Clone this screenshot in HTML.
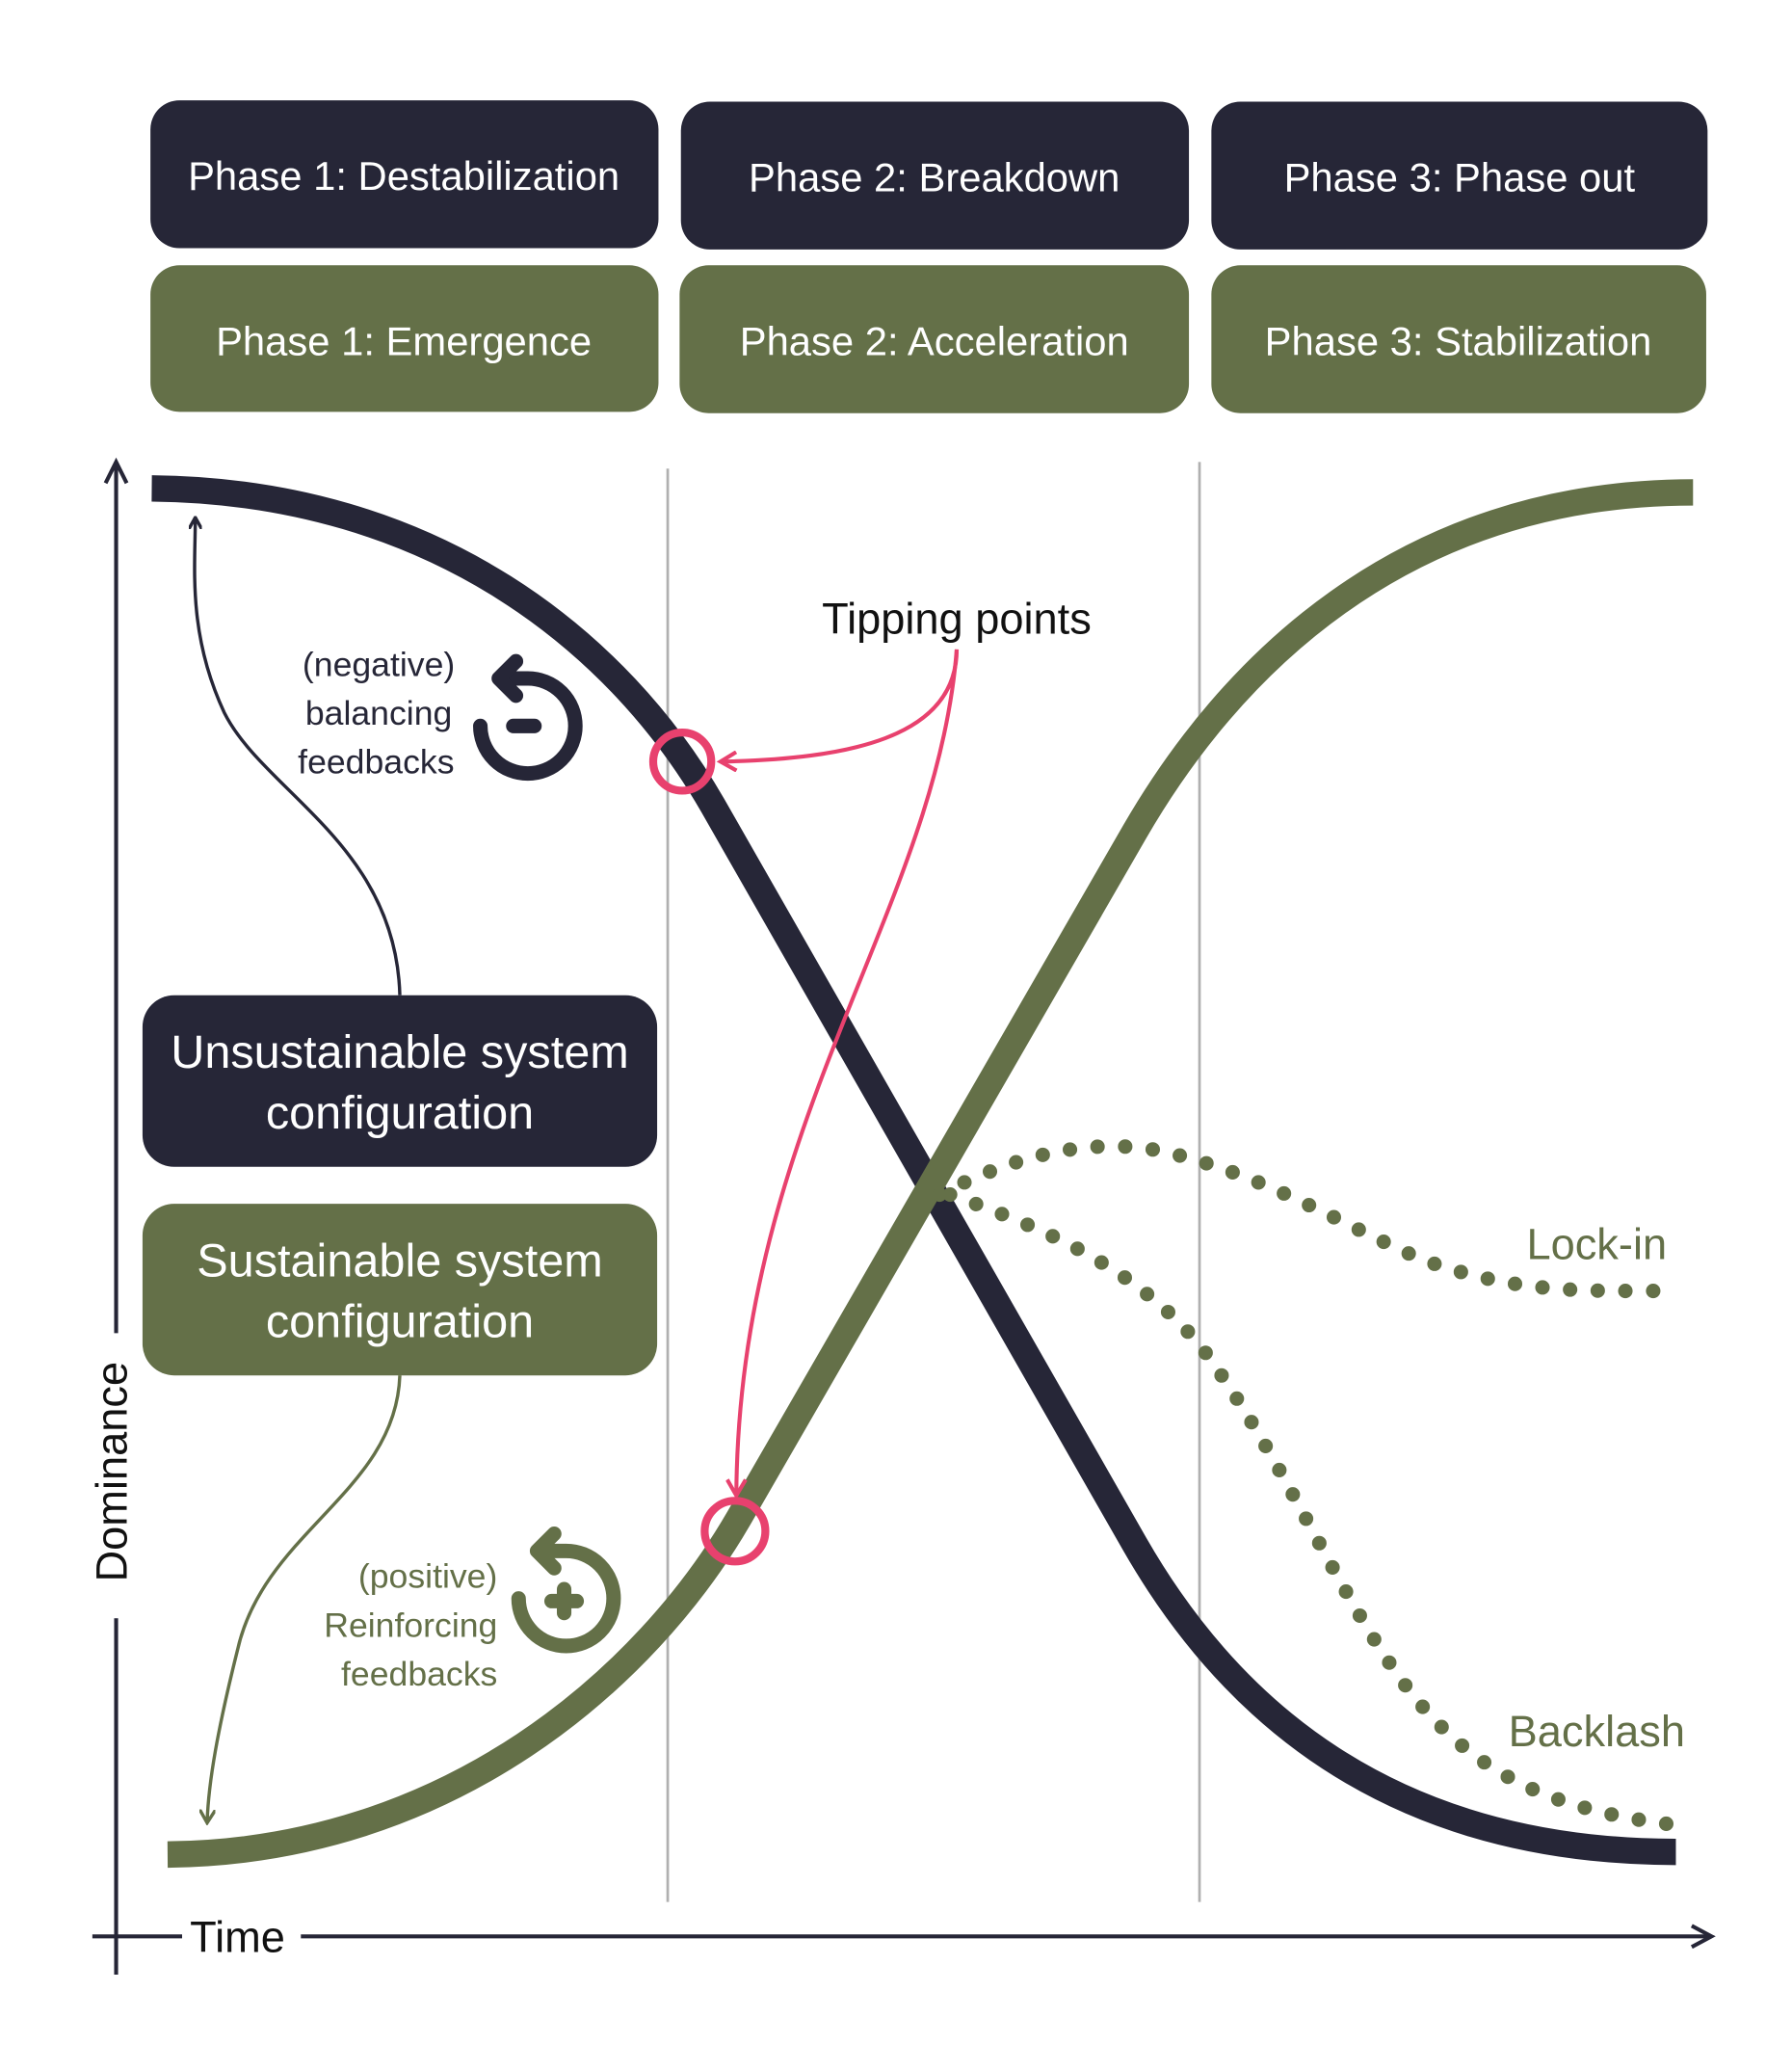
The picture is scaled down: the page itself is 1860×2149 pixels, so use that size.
<!DOCTYPE html>
<html><head><meta charset="utf-8"><style>
html,body{margin:0;padding:0;background:#fff}
svg{display:block}
text{font-family:"Liberation Sans",sans-serif}
</style></head><body>
<svg width="1860" height="2149" viewBox="0 0 1358 1569" xmlns="http://www.w3.org/2000/svg">
<defs>
<marker id="ad" markerWidth="10" markerHeight="10" refX="8" refY="5" orient="auto" markerUnits="userSpaceOnUse"><path d="M0,0 L9,5 L0,10" fill="none" stroke="#262637" stroke-width="2.5"/></marker>
<marker id="ag" markerWidth="12" markerHeight="12" refX="9" refY="6" orient="auto" markerUnits="userSpaceOnUse"><path d="M0,0 L10,6 L0,12" fill="none" stroke="#647048" stroke-width="2.5"/></marker>
<marker id="ap" markerWidth="16" markerHeight="16" refX="12" refY="8" orient="auto" markerUnits="userSpaceOnUse"><path d="M1,1 L13,8 L1,15" fill="none" stroke="#e8416e" stroke-width="3"/></marker>
</defs>
<rect width="1358" height="1569" fill="#fff"/>
<g font-size="30.5" fill="#fff" text-anchor="middle">
<rect x="114" y="76" width="385" height="112" rx="22" fill="#262637"/>
<rect x="516" y="77" width="385" height="112" rx="22" fill="#262637"/>
<rect x="918" y="77" width="376" height="112" rx="22" fill="#262637"/>
<rect x="114" y="201" width="385" height="111" rx="22" fill="#647048"/>
<rect x="515" y="201" width="386" height="112" rx="22" fill="#647048"/>
<rect x="918" y="201" width="375" height="112" rx="22" fill="#647048"/>
<text x="306" y="144">Phase 1: Destabilization</text>
<text x="708" y="145">Phase 2: Breakdown</text>
<text x="1106" y="145">Phase 3: Phase out</text>
<text x="306" y="269">Phase 1: Emergence</text>
<text x="708" y="269">Phase 2: Acceleration</text>
<text x="1105" y="269">Phase 3: Stabilization</text>
</g>
<line x1="506" y1="355" x2="506" y2="1441" stroke="#b0b0b0" stroke-width="2"/>
<line x1="909" y1="350" x2="909" y2="1441" stroke="#b0b0b0" stroke-width="2"/>
<line x1="88" y1="352" x2="88" y2="1496" stroke="#262637" stroke-width="3"/>
<path d="M80,366 L88,350 L96,366" fill="none" stroke="#262637" stroke-width="3"/>
<line x1="70" y1="1467" x2="1296" y2="1467" stroke="#262637" stroke-width="3"/>
<path d="M1282,1459 L1297,1467 L1282,1475" fill="none" stroke="#262637" stroke-width="3"/>
<rect x="138" y="1450" width="90" height="34" fill="#fff"/>
<text x="180" y="1479" font-size="33" text-anchor="middle" fill="#111">Time</text>
<rect x="70" y="1010" width="34" height="216" fill="#fff"/>
<text transform="translate(96,1115) rotate(-90)" font-size="33" text-anchor="middle" fill="#111">Dominance</text>
<path d="M115,370 C330,372 470,488 540,610 L860,1170 C930,1292 1050,1403 1270,1403" fill="none" stroke="#262637" stroke-width="20"/>
<path d="M127,1405 C340,1403 490,1271 560,1150 L860,630 C930,509 1060,373 1283,373" fill="none" stroke="#647048" stroke-width="20"/>
<path d="M712,905 C760,880 820,860 880,872 C960,890 1020,930 1080,955 C1150,980 1200,978 1265,978" fill="none" stroke="#647048" stroke-width="11" stroke-linecap="round" stroke-dasharray="0 21"/>
<path d="M720,905 C790,930 860,960 910,1020 C970,1100 1010,1200 1060,1270 C1110,1340 1170,1370 1265,1382" fill="none" stroke="#647048" stroke-width="11" stroke-linecap="round" stroke-dasharray="0 21"/>
<text x="1210" y="954" font-size="33" text-anchor="middle" fill="#647048">Lock-in</text>
<text x="1210" y="1323" font-size="33" text-anchor="middle" fill="#647048">Backlash</text>
<text x="725" y="480" font-size="33" text-anchor="middle" fill="#111">Tipping points</text>
<path d="M725,492 C725,560 640,575 547,577" fill="none" stroke="#e8416e" stroke-width="3" marker-end="url(#ap)"/>
<path d="M725,492 C710,690 560,850 558,1132" fill="none" stroke="#e8416e" stroke-width="3" marker-end="url(#ap)"/>
<circle cx="517" cy="577" r="22" fill="none" stroke="#e8416e" stroke-width="6"/>
<circle cx="557" cy="1160" r="23" fill="none" stroke="#e8416e" stroke-width="6"/>
<rect x="108" y="754" width="390" height="130" rx="24" fill="#262637"/>
<rect x="108" y="912" width="390" height="130" rx="24" fill="#647048"/>
<g font-size="35.5" fill="#fff" text-anchor="middle">
<text x="303" y="809">Unsustainable system</text>
<text x="303" y="855">configuration</text>
<text x="303" y="967">Sustainable system</text>
<text x="303" y="1013">configuration</text>
</g>
<path d="M303,754 C300,640 200,600 170,540 C142,480 148,430 148,393" fill="none" stroke="#262637" stroke-width="2.5" marker-end="url(#ad)"/>
<path d="M303,1042 C300,1130 200,1160 180,1250 C165,1310 158,1350 157,1380" fill="none" stroke="#647048" stroke-width="2.5" marker-end="url(#ag)"/>
<g font-size="26" fill="#262637" text-anchor="middle">
<text x="287" y="512">(negative)</text>
<text x="287" y="549">balancing</text>
<text x="285" y="586">feedbacks</text>
</g>
<g font-size="26" fill="#647048" text-anchor="end">
<text x="377" y="1203">(positive)</text>
<text x="377" y="1240">Reinforcing</text>
<text x="377" y="1277">feedbacks</text>
</g>
<g fill="none" stroke="#262637" stroke-width="11" stroke-linecap="round" stroke-linejoin="round">
<path d="M364,550 A36,36 0 1 0 400,514 L380,514"/>
<path d="M391,501 L378,514 L391,527"/>
<line x1="389" y1="550" x2="405" y2="550"/>
</g>
<g fill="none" stroke="#647048" stroke-width="11" stroke-linecap="round" stroke-linejoin="round">
<path d="M393,1211 A36,36 0 1 0 429,1175 L409,1175"/>
<path d="M420,1162 L407,1175 L420,1188"/>
<line x1="418" y1="1213" x2="437" y2="1213"/>
<line x1="427.5" y1="1204" x2="427.5" y2="1222"/>
</g>
</svg>
</body></html>
